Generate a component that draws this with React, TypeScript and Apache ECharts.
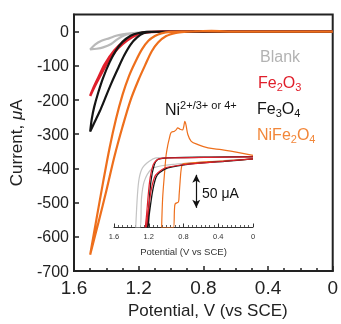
import { useEffect, useRef } from 'react';
import * as echarts from 'echarts';

const FONT = '"Liberation Sans", Arial, Helvetica, sans-serif';

// Main panel: current (uA) vs potential (V vs SCE), forward and reverse scans
const blankFwd = [[0, 0], [0.5, 0], [1.0, 0], [1.15, -1], [1.2, -3], [1.25, -6], [1.29, -11], [1.33, -22], [1.37, -36], [1.42, -46], [1.46, -50], [1.5, -52]];
const blankRev = [[1.5, -52], [1.47, -38], [1.43, -27], [1.38, -19], [1.34, -12], [1.3, -8], [1.25, -5], [1.2, -3], [1.15, -1], [1.0, 0], [0.5, 0], [0, 0]];

const fe2o3Fwd = [[0, 0], [0.8, 0], [1.05, 0], [1.12, -1], [1.17, -3], [1.21, -9], [1.27, -25], [1.33, -50], [1.39, -88], [1.43, -122], [1.47, -158], [1.5, -188]];
const fe2o3Rev = [[1.5, -188], [1.48, -165], [1.45, -135], [1.41, -96], [1.35, -55], [1.29, -28], [1.23, -12], [1.18, -4], [1.12, -1], [1.05, 0], [0.5, 0], [0, 0]];

const fe3o4Fwd = [[0, 0], [0.8, 0], [1.05, 0], [1.12, -1], [1.17, -5], [1.21, -17], [1.25, -38], [1.29, -70], [1.33, -110], [1.37, -152], [1.41, -198], [1.44, -232], [1.47, -262], [1.5, -292]];
const fe3o4Rev = [[1.5, -292], [1.49, -255], [1.475, -220], [1.45, -178], [1.42, -135], [1.38, -90], [1.34, -55], [1.3, -30], [1.25, -12], [1.2, -4], [1.15, -1], [1.05, 0], [0.5, 0], [0, 0]];

const nife2o4Fwd = [[0, 0], [0.6, 0], [0.75, 2], [0.85, 0.5], [0.92, -1], [0.97, -4], [1.03, -13], [1.08, -32], [1.12, -58], [1.16, -98], [1.2, -140], [1.25, -200], [1.3, -278], [1.35, -365], [1.4, -465], [1.45, -560], [1.5, -652]];
const nife2o4Rev = [[1.5, -652], [1.46, -545], [1.42, -440], [1.38, -340], [1.34, -255], [1.3, -185], [1.26, -130], [1.22, -88], [1.18, -52], [1.14, -27], [1.1, -13], [1.06, -5], [1.0, -1], [0.9, 0], [0.8, 1], [0.6, 0], [0, 0]];

// Inset: zoomed view (uA, relative offset)
const insetBlankA = [[0, 0.5], [0.5, 0.3], [1.0, 0], [1.117, -0.5], [1.194, -5.6], [1.272, -15.6], [1.31, -31], [1.33, -56], [1.35, -106]];
const insetBlankB = [[1.3, -106], [1.283, -61], [1.252, -36], [1.175, -18], [1.08, -13], [0.9, -10], [0.6, -7], [0.3, -4], [0, -2]];
const insetFe2o3A = [[0, 1], [0.5, 0.5], [1.0, -0.5], [1.07, -1.5], [1.11, -4], [1.15, -11], [1.19, -36], [1.225, -86], [1.24, -106]];
const insetFe2o3B = [[1.23, -106], [1.21, -86], [1.175, -51], [1.135, -30], [1.095, -23], [1.0, -15], [0.71, -9.5], [0.33, -5.5], [0, -2]];
const insetFe3o4A = [[0, 1.5], [0.5, 0.7], [0.9, 0], [1.04, -1], [1.098, -3], [1.136, -10.6], [1.175, -36], [1.206, -86], [1.22, -106]];
const insetFe3o4B = [[1.21, -106], [1.194, -86], [1.156, -51], [1.117, -30], [1.078, -23], [0.98, -15.6], [0.71, -9.5], [0.325, -5.6], [0, -2]];
const insetNife2o4A = [[0, 3.5], [0.209, 8.6], [0.363, 12], [0.518, 14.7], [0.634, 19.7], [0.711, 24.7], [0.75, 35], [0.772, 50], [0.785, 55], [0.797, 47], [0.81, 42], [0.84, 43], [0.866, 45], [0.885, 42], [0.904, 40], [0.943, 38], [0.965, 28], [0.982, 18], [1.0, 4], [1.02, -26], [1.04, -61], [1.052, -106]];
const insetNife2o4B = [[0.916, -106], [0.904, -79], [0.896, -70], [0.858, -67], [0.85, -56], [0.839, -36], [0.827, -18], [0.808, -9.6], [0.7, -8], [0.5, -6], [0.33, -5], [0, -2]];

const scaleBar = [[0.653, -26], [0.653, -76]];

const GRAY = '#b9b9b9';
const RED = '#e01f2b';
const BLACK = '#151515';
const ORANGE = '#ee6f1c';

function mainSeries(name: string, data: number[][], color: string, width: number) {
  return {
    name, type: 'line', xAxisIndex: 0, yAxisIndex: 0, data, showSymbol: false, smooth: 0.3,
    lineStyle: { color, width }, itemStyle: { color }, silent: true,
  };
}
function insetSeries(name: string, data: number[][], color: string, width: number) {
  return {
    name, type: 'line', xAxisIndex: 1, yAxisIndex: 1, data, showSymbol: false, smooth: 0.3,
    lineStyle: { color, width }, itemStyle: { color }, silent: true,
  };
}

function subLabel(x: number, y: number, parts: string, color: string) {
  return {
    type: 'text', x, y,
    style: {
      text: parts, verticalAlign: 'middle',
      rich: {
        m: { fontSize: 16, fontFamily: FONT, fill: color, color, lineHeight: 20 },
        s: { fontSize: 11, fontFamily: FONT, fill: color, color, lineHeight: 7, verticalAlign: 'bottom' },
        p: { fontSize: 11, fontFamily: FONT, fill: color, color, lineHeight: 10, verticalAlign: 'top' },
      },
    },
  };
}

export default function App() {
  const ref = useRef<HTMLDivElement>(null);
  useEffect(() => {
    const chart = echarts.init(ref.current!, null, { renderer: 'svg' });
    const option: any = {
      animation: false,
      textStyle: { fontFamily: FONT },
      grid: [
        { left: 73, right: 7, top: 14.5, bottom: 47, show: true, borderColor: '#222', borderWidth: 2 },
        { left: 114, right: 88, top: 116, bottom: 97 },
      ],
      xAxis: [
        {
          gridIndex: 0, type: 'value', min: 0, max: 1.6, interval: 0.4, inverse: true,
          name: 'Potential, V (vs SCE)', nameLocation: 'middle', nameGap: 27,
          nameTextStyle: { fontSize: 17, color: '#222', fontFamily: FONT, padding: [0, 0, 0, 9] },
          axisLine: { show: true, onZero: false, lineStyle: { color: '#222', width: 2 } },
          axisTick: { show: true, inside: true, length: 5, lineStyle: { color: '#222', width: 1.5 } },
          minorTick: { show: true, splitNumber: 4, length: 3, lineStyle: { color: '#222', width: 1.5 } },
          axisLabel: { fontSize: 19, color: '#222', margin: 7, fontFamily: FONT },
          splitLine: { show: false },
        },
        {
          gridIndex: 1, type: 'value', min: 0, max: 1.6, interval: 0.4, inverse: true,
          name: 'Potential (V vs SCE)', nameLocation: 'middle', nameGap: 19,
          nameTextStyle: { fontSize: 9.5, color: '#333', fontFamily: FONT },
          axisLine: { show: true, onZero: false, lineStyle: { color: '#333', width: 1 } },
          axisTick: { show: true, inside: true, length: 3.5, lineStyle: { color: '#333', width: 1 } },
          minorTick: { show: true, splitNumber: 8, length: 2, lineStyle: { color: '#333', width: 0.8 } },
          axisLabel: { fontSize: 7.5, color: '#333', margin: 5, fontFamily: FONT },
          splitLine: { show: false },
        },
      ],
      yAxis: [
        {
          gridIndex: 0, type: 'value', min: -700, max: 50, interval: 100,
          name: 'Current, {i|μ}A', nameLocation: 'middle', nameGap: 49,
          nameTextStyle: {
            fontSize: 17, color: '#222', fontFamily: FONT,
            rich: { i: { fontSize: 17, fontStyle: 'italic', color: '#222', fontFamily: FONT } },
          },
          axisLine: { show: true, onZero: false, lineStyle: { color: '#222', width: 2 } },
          axisTick: { show: true, inside: true, length: 5, lineStyle: { color: '#222', width: 1.5 } },
          axisLabel: { fontSize: 16, color: '#222', margin: 5, fontFamily: FONT, showMaxLabel: false },
          splitLine: { show: false },
        },
        {
          gridIndex: 1, type: 'value', min: -105, max: 63, show: false,
          axisLine: { show: false, onZero: false }, splitLine: { show: false },
        },
      ],
      series: [
        mainSeries('Blank', [...blankFwd, ...blankRev], GRAY, 2.2),
        mainSeries('Fe2O3', [...fe2o3Fwd, ...fe2o3Rev], RED, 2.5),
        mainSeries('Fe3O4', [...fe3o4Fwd, ...fe3o4Rev], BLACK, 2.2),
        mainSeries('NiFe2O4', [...nife2o4Fwd, ...nife2o4Rev], ORANGE, 2.2),
        insetSeries('Blank (inset)', [...insetBlankA, ...insetBlankB], '#c4c4c4', 1.2),
        insetSeries('NiFe2O4 (inset)', [...insetNife2o4A, ...insetNife2o4B], ORANGE, 1.2),
        insetSeries('Fe3O4 (inset)', [...insetFe3o4A, ...insetFe3o4B], BLACK, 1.3),
        insetSeries('Fe2O3 (inset)', [...insetFe2o3A, ...insetFe2o3B], RED, 1.2),
        {
          name: 'scale', type: 'line', xAxisIndex: 1, yAxisIndex: 1, data: [], silent: true,
          markLine: {
            silent: true, symbol: ['arrow', 'arrow'], symbolSize: [6, 8], label: { show: false },
            lineStyle: { color: '#111', width: 1.2, type: 'solid' },
            data: [[{ coord: scaleBar[0] }, { coord: scaleBar[1] }]],
          },
        },
      ],
      graphic: [
        { type: 'text', x: 260, y: 56, style: { text: 'Blank', fill: '#b3b3b3', fontSize: 16, fontFamily: FONT, verticalAlign: 'middle' } },
        subLabel(258, 82, '{m|Fe}{s|2}{m|O}{s|3}', RED),
        subLabel(257, 108, '{m|Fe}{s|3}{m|O}{s|4}', BLACK),
        subLabel(257, 134, '{m|NiFe}{s|2}{m|O}{s|4}', '#f2873a'),
        subLabel(165, 109, '{m|Ni}{p|2+/3+ or 4+}', BLACK),
        { type: 'text', x: 202, y: 193, style: { text: '50 μA', fill: '#111', fontSize: 14, fontFamily: FONT, verticalAlign: 'middle' } },
      ],
    };
    chart.setOption(option);
    return () => chart.dispose();
  }, []);
  return <div ref={ref} style={{ position: 'fixed', left: 0, top: 0, width: 341, height: 324 }} />;
}
